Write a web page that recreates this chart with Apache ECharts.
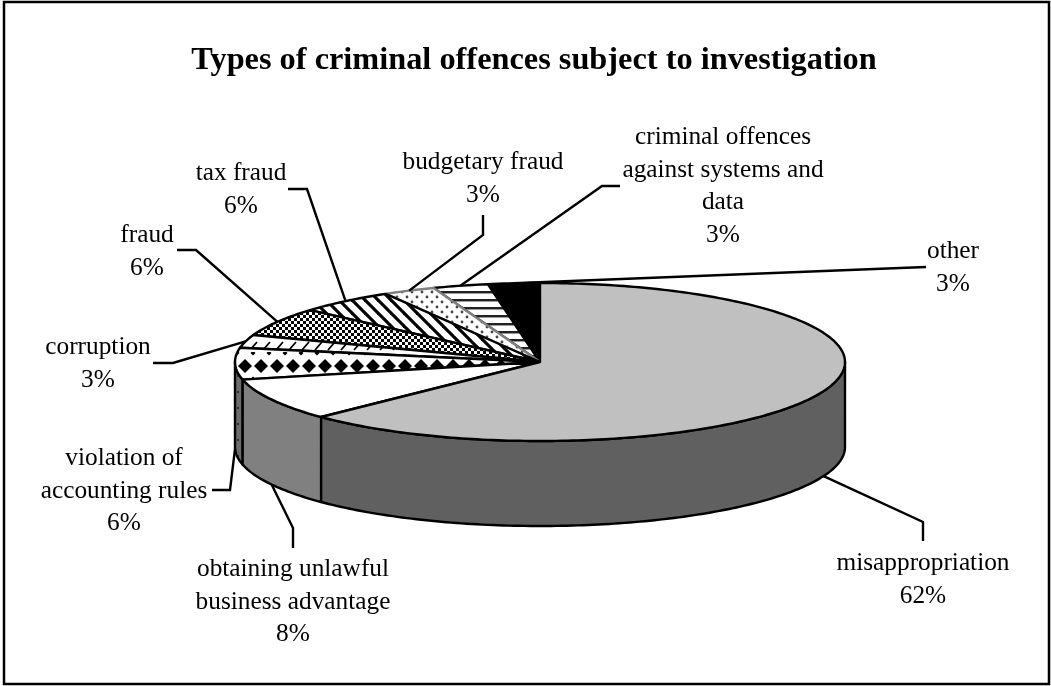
<!DOCTYPE html>
<html><head><meta charset="utf-8">
<style>html,body{margin:0;padding:0;background:#fff}#c{width:1051px;height:686px}</style>
<script src="https://cdn.jsdelivr.net/npm/echarts@6/dist/echarts.min.js"></script>
</head><body><div id="c"></div>
<script>
// ---- data (clockwise from 12 o'clock)
const categories = ['misappropriation','obtaining unlawful\nbusiness advantage','violation of\naccounting rules','corruption','fraud','tax fraud','budgetary fraud','criminal offences\nagainst systems and\ndata','other'];
const values = [61.8, 8.3, 6.4, 2.7, 6.1, 5.5, 3.0, 3.2, 3.0];
const chartTitle = 'Types of criminal offences subject to investigation';

// ---- layout, separate from the data
const CX = 540, CY = 362, RX = 305, RY = 79, DEPTH = 85, WARP = 5;
const SERIF = '"Liberation Serif","Times New Roman",serif';
const labelPos = [[923,547],[293,553],[124,442],[98,331],[147,219],[241,157],[483,146],[723,121],[953,235]];
const leaderNudgeDeg = [5,0,0,0,0,0,0,0,0];
const leaderTail = [
 [[923,522],[923,541]],
 [[293,528],[293,548]],
 [[230,490],[212,490]],
 [[173,363],[153,363]],
 [[196,250],[177,250]],
 [[307,189],[288,189]],
 [[483,235],[483,215]],
 [[602,186],[620,186]],
 [[900,268],[926,267]]
];

// ---- fills
function tile(w,h,bg,draw){const c=document.createElement('canvas');c.width=w;c.height=h;const g=c.getContext('2d');g.fillStyle=bg;g.fillRect(0,0,w,h);draw(g,w,h);return {image:c,repeat:'repeat'};}
function diamond(g,x,y,r){g.beginPath();g.moveTo(x,y-r);g.lineTo(x+r,y);g.lineTo(x,y+r);g.lineTo(x-r,y);g.closePath();g.fill();}
const patDiamonds = tile(16,32,'#fff',(g)=>{g.fillStyle='#000';for(const dx of [-16,0,16]){diamond(g,5+dx,14,7);diamond(g,13+dx,1,2.5);diamond(g,13+dx,27,2.5);}});
const patSlashes = tile(13,16,'#fff',(g)=>{g.strokeStyle='#000';g.lineWidth=1.8;g.beginPath();g.moveTo(3,14);g.lineTo(10,6);g.stroke();});
const patChecks = tile(6,6,'#fff',(g)=>{g.fillStyle='#000';g.fillRect(0,0,3,3);g.fillRect(3,3,3,3);});
const patDiag = tile(13,13,'#fff',(g)=>{g.strokeStyle='#000';g.lineWidth=3.2;for(const o of [-13,0,13]){g.beginPath();g.moveTo(o-2,-2);g.lineTo(o+15,15);g.stroke();}});
const patDots = tile(10,10,'#fff',(g)=>{g.fillStyle='#444';for(const [x,y] of [[2,2],[7,7]]){g.beginPath();g.arc(x,y,1.4,0,7);g.fill();}});
const patHoriz = tile(8,8,'#fff',(g)=>{g.fillStyle='#222';g.fillRect(0,3,8,2);g.fillStyle='#999';g.fillRect(0,5,8,1);});
const patSideDots = tile(5,16,'#6c6c6c',(g)=>{g.fillStyle='#333';g.fillRect(2,7,2,2);});
const topFill  = ['#c0c0c0','#ffffff',patDiamonds,patSlashes,patChecks,patDiag,patDots,patHoriz,'#000000'];
const sideFill = ['#606060','#808080',patSideDots,'#808080','#606060','#606060','#808080','#808080','#000000'];
const edgeColor = ['#000','#000','#000','#000','#000','#000','#808080','#000','#000'];

// ---- geometry through the values
const total = values.reduce((a,b)=>a+b,0);
const cum = values.reduce((a,v)=>{a.push(a[a.length-1]+v);return a;},[0]);
const warp = d => d - WARP*Math.sin(d*Math.PI/180);
const pctToDeg = p => warp(p/total*360);
const pt = (deg,dy=0)=>{const r=deg*Math.PI/180;return [CX+RX*Math.sin(r),CY-RY*Math.cos(r)+dy];};
function arc(a,b,dy=0){const n=Math.max(2,Math.ceil(Math.abs(b-a)));const o=[];for(let i=0;i<=n;i++)o.push(pt(a+(b-a)*i/n,dy));return o;}

function renderItem(params,api){
  const i=api.value(1);
  const a=pctToDeg(cum[i]), b=pctToDeg(cum[i+1]);
  const kids=[];
  // visible wall: front half of the rim only
  const sa=Math.max(a,90), sb=Math.min(b,270);
  if(sb>sa){
    kids.push({type:'polygon',shape:{points:arc(sa,sb).concat(arc(sb,sa,DEPTH))},
      style:{fill:sideFill[i],stroke:'#000',lineWidth:2.4,lineJoin:'round'}});
  }
  // top face
  kids.push({type:'polygon',shape:{points:[[CX,CY]].concat(arc(a,b))},
    style:{fill:topFill[i],stroke:edgeColor[i],lineWidth:2.4,lineJoin:'round'}});
  // leader from the slice's mid-angle
  const m=pctToDeg((cum[i]+cum[i+1])/2)+leaderNudgeDeg[i];
  const onFront=m>90&&m<270;
  const start=pt(m,onFront?DEPTH:0);
  kids.push({type:'polyline',shape:{points:[start].concat(leaderTail[i])},
    style:{fill:null,stroke:'#000',lineWidth:2.4},z2:5});
  // label
  kids.push({type:'text',x:labelPos[i][0],y:labelPos[i][1],z2:6,
    style:{text:categories[i]+'\n'+Math.round(values[i]/total*100)+'%',
      font:'25.33px '+SERIF,fill:'#000',align:'center',verticalAlign:'top',lineHeight:32.6}});
  return {type:'group',children:kids};
}

const chart=echarts.init(document.getElementById('c'),null,{renderer:'canvas'});
chart.setOption({
  animation:false,
  backgroundColor:'#fff',
  title:{text:chartTitle,left:529,top:40,textAlign:'center',
    textStyle:{fontFamily:SERIF,fontSize:32.33,fontWeight:'bold',color:'#000'}},
  graphic:[{type:'rect',shape:{x:4,y:2,width:1045,height:682},z:-1,
    style:{fill:'#fff',stroke:'#000',lineWidth:2.5}}],
  // drawn last slice first, so each slice's edge lies over its clockwise neighbour
  series:[{type:'custom',coordinateSystem:'none',renderItem,silent:true,
    data:values.map((v,i)=>[v,i]).reverse()}]
});
</script></body></html>
